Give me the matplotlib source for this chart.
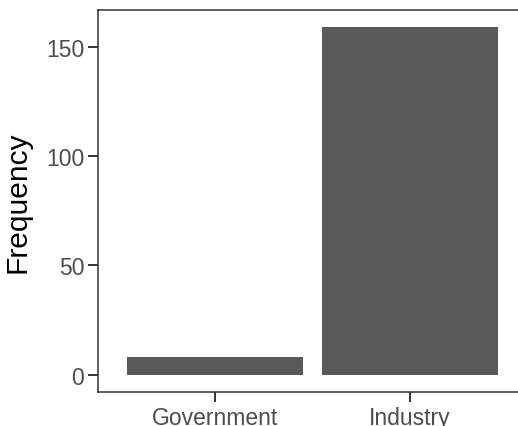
import matplotlib
matplotlib.use("Agg")
import matplotlib.pyplot as plt

categories = ["Government", "Industry"]
frequency = [8, 159]

plt.rcParams['font.family'] = ['Liberation Sans', 'DejaVu Sans']

fig = plt.figure(figsize=(5.18, 4.27), dpi=100)
ax = fig.add_axes([98/518, 1 - 393/427, (527 - 98)/518, (393 - 11)/427])

x = list(range(len(categories)))
ax.bar(x, frequency, width=0.9, color="#595959")
ax.set_xticks(x)
ax.set_xticklabels(categories)
ax.set_xlim(-0.6, 1.6)
ax.set_ylim(-0.05 * max(frequency), max(frequency) * 1.05)
ax.set_yticks([0, 50, 100, 150])
ax.set_ylabel("Frequency", fontsize=21.5, color="black", labelpad=10)

for s in ax.spines.values():
    s.set_color("#333333")
    s.set_linewidth(1.1)
ax.spines['right'].set_visible(False)
ax.tick_params(axis='both', length=7, width=1.4, color="#333333",
               labelsize=16.5, labelcolor="#4D4D4D", pad=3)

fig.savefig("out.png", dpi=100)
